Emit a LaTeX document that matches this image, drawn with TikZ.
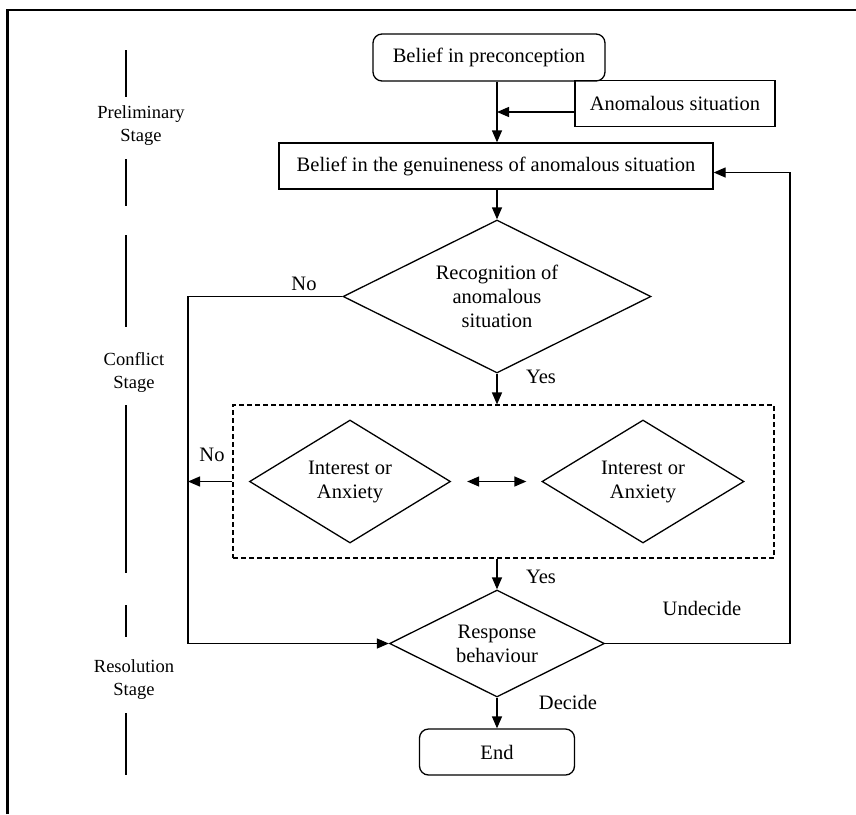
\documentclass[tikz,border=0pt]{standalone}
\usepackage{fontspec}
\setmainfont{Liberation Serif}
\usetikzlibrary{shapes.geometric,arrows.meta,calc}
\begin{document}
\begin{tikzpicture}[x=1pt,y=-1pt,
  line width=1.3pt,
  every node/.style={font=\fontsize{20.5}{24}\selectfont},
  proc/.style={draw,rectangle,inner sep=0,align=center},
  term/.style={draw,rectangle,rounded corners=9pt,inner sep=0,align=center},
  dec/.style={draw,diamond,inner sep=0,align=center},
  lbl/.style={inner sep=0},
  stagelbl/.style={inner sep=0,align=center,font=\fontsize{18.5}{23}\selectfont},
  arr/.style={-{Triangle[length=12pt,width=10pt]}},
  stageline/.style={line width=1.3pt}]
\useasboundingbox (0,0) rectangle (856,814);
% frame
\draw[line width=2.2pt] (7.5,814) -- (7.5,10) -- (856,10);
% nodes
\node[term,minimum width=232,minimum height=47] (pre) at (489,57.5) {Belief in preconception};
\node[proc,minimum width=200,minimum height=46] (anom) at (675,103.5) {Anomalous situation};
\node[proc,minimum width=434,minimum height=46] (gen) at (496,166) {Belief in the genuineness of anomalous situation};
\node[dec,aspect=2,minimum width=308,minimum height=153] (rec) at (497,296.5) {Recognition of\\anomalous\\situation};
\node[draw,dash pattern=on 5pt off 3pt,rectangle,line width=1.1pt,minimum width=541,minimum height=153,inner sep=0] (grp) at (503.5,481.5) {};
\node[dec,aspect=1.64,minimum width=201,minimum height=123] (ia1) at (350,481.5) {Interest or\\Anxiety};
\node[dec,aspect=1.64,minimum width=202,minimum height=123] (ia2) at (643,481.5) {Interest or\\Anxiety};
\node[dec,aspect=2,minimum width=215,minimum height=107] (resp) at (497,643.5) {Response\\behaviour};
\node[term,minimum width=155,minimum height=46] (end) at (497,752) {End};
% coordinates
\coordinate (lft) at (188,643.5);
\coordinate (rgt) at (790,643.5);
% connectors
\draw[arr] (pre.south -| rec.north) -- (gen.north -| rec.north);
\draw[arr] ([yshift=-8.5pt]anom.west) -- ([yshift=-8.5pt]anom.west -| rec.north);
\draw[arr] (gen.south -| rec.north) -- (rec.north);
\draw[arr] (rec.south) -- (grp.north -| rec.south);
\draw[arr] (grp.south -| resp.north) -- (resp.north);
\draw[arr] (resp.south) -- (end.north);
\draw[arr] (rec.west) -| (lft) -- (resp.west);
\draw[arr] (grp.west |- ia1.center) -- (lft |- ia1.center);
\draw[arr] (resp.east) -- (rgt) |- ([yshift=-6.5pt]gen.east);
\draw[{Triangle[length=12pt,width=10pt]}-{Triangle[length=12pt,width=10pt]},shorten <=16pt,shorten >=15pt] (ia1.east) -- (ia2.west);
% labels
\node[lbl] (no1) at (304,284) {No};
\node[lbl] (yes1) at (541,377) {Yes};
\node[lbl] (no2) at (212,455) {No};
\node[lbl] (yes2) at (541,577) {Yes};
\node[lbl] (und) at (702,608) {Undecide};
\node[lbl] (dec) at (568,702) {Decide};
% stage axis
\draw[stageline] (126,50) -- (126,97);
\draw[stageline] (126,159) -- (126,206);
\draw[stageline] (126,235) -- (126,327);
\draw[stageline] (126,405) -- (126,573);
\draw[stageline] (126,605) -- (126,637);
\draw[stageline] (126,713) -- (126,775);
\node[stagelbl] (st1) at (141,126) {Preliminary\\Stage};
\node[stagelbl] (st2) at (134,372) {Conflict\\Stage};
\node[stagelbl] (st3) at (134,680) {Resolution\\Stage};
\end{tikzpicture}
\end{document}
